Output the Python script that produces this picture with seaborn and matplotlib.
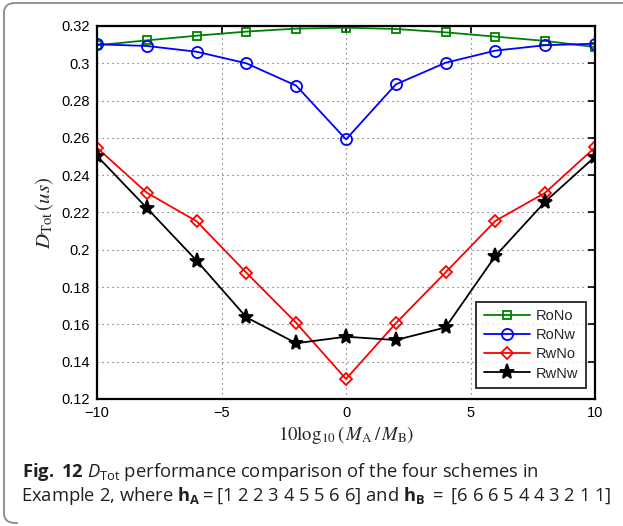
import numpy as np
import pandas as pd
import seaborn as sns
import matplotlib
matplotlib.use("Agg")
import matplotlib.pyplot as plt
from matplotlib.patches import FancyBboxPatch, Rectangle

# Ratio of the two amplitudes, 10log10(M_A/M_B)
ratio_db = [-10, -8, -6, -4, -2, 0, 2, 4, 6, 8, 10]

# Total delay D_Tot (us) for each scheme
rono = [0.3097, 0.3123, 0.3148, 0.3170, 0.3186, 0.3191, 0.3184, 0.3166, 0.3143, 0.3120, 0.3087]
ronw = [0.3102, 0.3093, 0.3062, 0.3000, 0.2880, 0.2592, 0.2887, 0.3003, 0.3068, 0.3097, 0.3105]
rwno = [0.2547, 0.2306, 0.2153, 0.1877, 0.1608, 0.1307, 0.1606, 0.1879, 0.2155, 0.2306, 0.2549]
rwnw = [0.2503, 0.2224, 0.1942, 0.1638, 0.1499, 0.1534, 0.1516, 0.1584, 0.1967, 0.2258, 0.2499]

schemes = ["RoNo", "RoNw", "RwNo", "RwNw"]
x_ticks = [-10, -5, 0, 5, 10]
y_ticks = [0.12, 0.14, 0.16, 0.18, 0.20, 0.22, 0.24, 0.26, 0.28, 0.30, 0.32]
y_tick_labels = ["0.12", "0.14", "0.16", "0.18", "0.2", "0.22", "0.24", "0.26", "0.28", "0.3", "0.32"]

df = pd.DataFrame({
    "ratio": ratio_db * 4,
    "delay": rono + ronw + rwno + rwnw,
    "scheme": np.repeat(schemes, len(ratio_db)),
})

sns.set_theme(style="white")
plt.rcParams["font.family"] = ["Liberation Sans", "DejaVu Sans"]
plt.rcParams["mathtext.fontset"] = "custom"
plt.rcParams["mathtext.rm"] = "Open Sans"
plt.rcParams["mathtext.it"] = "Open Sans:italic"
plt.rcParams["mathtext.bf"] = "Open Sans:bold"

fig = plt.figure(figsize=(6.23, 5.26), dpi=100)
fig.patch.set_facecolor("white")

# rounded frame around the figure and caption (open at the bottom and right)
frame = FancyBboxPatch((4 / 623, 3 / 526), 700 / 623, 520 / 526,
                       boxstyle="round,pad=0,rounding_size=0.018",
                       transform=fig.transFigure, facecolor="none",
                       edgecolor="#8a8a8a", linewidth=1.3, clip_on=False, zorder=0)
fig.patches.append(frame)
fig.patches.append(Rectangle((18 / 623, 0), 1.0, 6 / 526, transform=fig.transFigure,
                             facecolor="white", edgecolor="none", zorder=1))

ax = fig.add_axes([97 / 623, 1 - 399 / 526, 498 / 623, 373 / 526])

styles = {
    "RoNo": dict(color="#008000", marker="s", markersize=6, mfc="none"),
    "RoNw": dict(color="#0000ff", marker="o", markersize=8, mfc="none"),
    "RwNo": dict(color="#ff0000", marker="D", markersize=6.5, mfc="none"),
    "RwNw": dict(color="#000000", marker="*", markersize=11, mfc="#000000"),
}

for name in schemes:
    st = styles[name]
    sub = df[df["scheme"] == name]
    sns.lineplot(data=sub, x="ratio", y="delay", ax=ax, label=name,
                 color=st["color"], marker=st["marker"], markersize=st["markersize"],
                 markerfacecolor=st["mfc"], markeredgecolor=st["color"],
                 markeredgewidth=1.3, linewidth=1.3, errorbar=None, sort=False)

ax.set_xlim(-10, 10)
ax.set_ylim(0.12, 0.32)
ax.set_xticks(x_ticks)
ax.set_xticklabels(["\u221210", "\u22125", "0", "5", "10"])
ax.set_yticks(y_ticks)
ax.set_yticklabels(y_tick_labels)
ax.tick_params(direction="in", length=5, width=1.2, top=True, right=True,
               labelsize=10.5, colors="black", pad=5)
ax.tick_params(axis="x", pad=5)
for sp in ax.spines.values():
    sp.set_visible(True)
    sp.set_color("black")
    sp.set_linewidth(1.6)
ax.grid(True, color="#555555", linestyle=(0, (1, 3.5)), linewidth=0.8)

ax.set_xlabel(r"$10\log_{10}(\,M_{\mathrm{A}}\,/\,M_{\mathrm{B}})$", fontsize=13.5,
              math_fontfamily="stix", labelpad=3)
ax.set_ylabel(r"$D_{\mathrm{Tot}}\,(us)$", fontsize=15, math_fontfamily="stix", labelpad=4)

leg = ax.legend(loc="lower right", bbox_to_anchor=(0.982, 0.03), fontsize=10.5,
                frameon=True, fancybox=False, borderpad=0.5, labelspacing=0.35,
                handlelength=3.2, handletextpad=0.4, borderaxespad=0)
leg.get_frame().set_edgecolor("black")
leg.get_frame().set_linewidth(1.4)

cap1 = r"$\mathbf{Fig.}$ $\mathbf{12}$ $D_{\mathrm{Tot}}$ performance comparison of the four schemes in"
cap2 = (r"Example 2, where $\mathbf{h}_{\mathbf{A}}$$=$[1 2 2 3 4 5 5 6 6] and "
        r"$\mathbf{h}_{\mathbf{B}}$ $=$ [6 6 6 5 4 4 3 2 1 1]")
fig.text(22 / 623, 1 - 472 / 526, cap1, fontsize=13.2, family="Open Sans",
         math_fontfamily="custom", va="center", ha="left", color="#231f20")
fig.text(21 / 623, 1 - 496 / 526, cap2, fontsize=13.2, family="Open Sans",
         math_fontfamily="custom", va="center", ha="left", color="#231f20")

fig.savefig("out.png", dpi=100, facecolor="white")
